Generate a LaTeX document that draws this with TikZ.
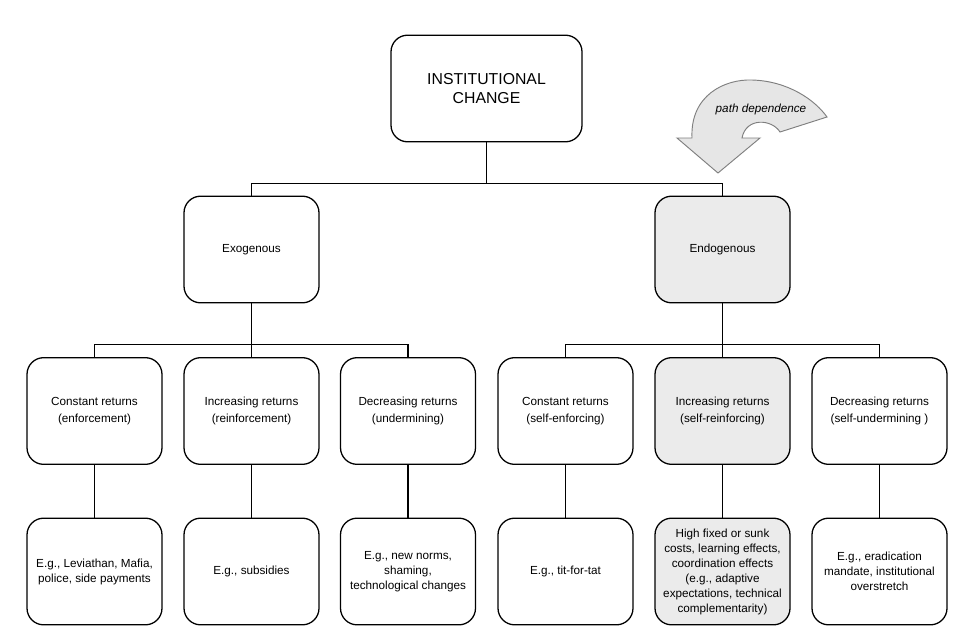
\documentclass[tikz,border=0pt]{standalone}
\usepackage{fontspec}
\setmainfont{Liberation Sans}
\definecolor{boxgray}{HTML}{EBEBEB}
\definecolor{arrowgray}{HTML}{E6E6E6}
\definecolor{arrowline}{HTML}{7F7F7F}
\begin{document}
\begin{tikzpicture}[x=0.03cm, y=-0.03cm, line width=1.1pt,
        box/.style={draw, rounded corners=0.5cm, align=center, inner sep=2pt,
            minimum width=4.05cm, minimum height=3.2cm, font=\fontsize{10}{14.5}\selectfont},
        example/.style={box, font=\fontsize{10}{12.8}\selectfont},
        shaded/.style={fill=boxgray}]
        \useasboundingbox (0, 0) rectangle (977, 637);
        \node[box, minimum width=5.73cm, font=\fontsize{13.5}{16.2}\selectfont] (change) at (486.5, 88.5) {INSTITUTIONAL\\CHANGE};
        \node[box] (exo) at (251.5, 249.5) {Exogenous};
        \node[box, shaded] (endo) at (722.5, 249.5) {Endogenous};
        \node[box] (exoconst) at (94.5, 411) {Constant returns\\(enforcement)};
        \node[box] (exoinc) at (251.5, 411) {Increasing returns\\(reinforcement)};
        \node[box] (exodec) at (408, 411) {Decreasing returns\\(undermining)};
        \node[box] (endoconst) at (565.5, 411) {Constant returns\\(self-enforcing)};
        \node[box, shaded] (endoinc) at (722.5, 411) {Increasing returns\\(self-reinforcing)};
        \node[box] (endodec) at (879.5, 411) {Decreasing returns\\(self-undermining )};
        \node[example] (exoconstex) at (94.5, 571.5) {E.g., Leviathan, Mafia,\\police, side payments};
        \node[example] (exoincex) at (251.5, 571.5) {E.g., subsidies};
        \node[example] (exodecex) at (408, 571.5) {E.g., new norms,\\shaming,\\technological changes};
        \node[example] (endoconstex) at (565.5, 571.5) {E.g., tit-for-tat};
        \node[example, shaded] (endoincex) at (722.5, 571.5) {High fixed or sunk\\costs, learning effects,\\coordination effects\\(e.g., adaptive\\expectations, technical\\complementarity)};
        \node[example] (endodecex) at (879.5, 571.5) {E.g., eradication\\mandate, institutional\\overstretch};
        % tree lines
        \draw (change.south) -- ++(0, 41) -| (exo.north);
        \draw (change.south) -- ++(0, 41) -| (endo.north);
        \foreach \kid in {exoconst, exoinc, exodec}
            \draw (exo.south) -- ++(0, 41) -| (\kid.north);
        \foreach \kid in {endoconst, endoinc, endodec}
            \draw (endo.south) -- ++(0, 41) -| (\kid.north);
        \foreach \kid in {exoconst, exoinc, exodec, endoconst, endoinc, endodec}
            \draw (\kid.south) -- (\kid ex.north);
        % path dependence arrow
        \draw[fill=arrowgray, draw=arrowline, line width=0.8pt, line join=miter]
            (677, 138) -- (692, 138) .. controls (690, 95) and (725, 79) .. (752, 80)
            .. controls (788, 81) and (815, 100) .. (827, 117) -- (780, 132)
            .. controls (772, 119) and (746, 117) .. (742, 138) -- (760, 138) -- (718, 173) -- cycle;
        \node[font=\fontsize{10}{12}\selectfont\itshape] (pathdep) at (761, 109) {path dependence};
\end{tikzpicture}
\end{document}
